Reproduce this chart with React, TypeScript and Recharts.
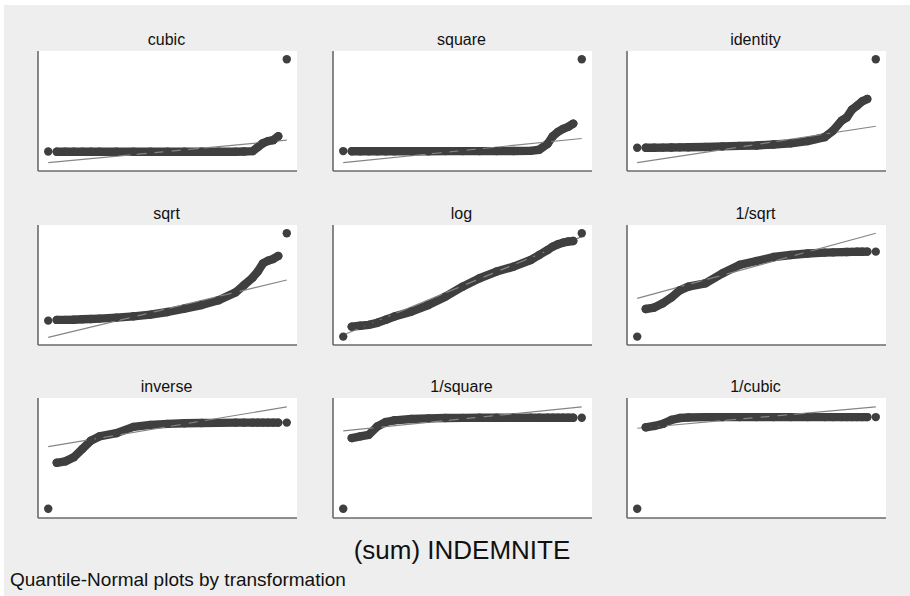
import { ComposedChart, Line, Scatter, XAxis, YAxis } from 'recharts'

// normal quantiles shared by every panel (first and last are the lone extremes)
const qx = [-3.5, -3.25, -3.0, -2.75, -2.5, -2.25, -2.0, -1.5, -1.0, -0.5, 0, 0.5, 1.0, 1.5, 2.0, 2.25, 2.5, 2.65, 2.8, 2.95, 3.1, 3.25, 3.5]
const fitX = [-3.5, 3.5]

// transformed values, rescaled to 0..100 within each panel
const cubicY = [16.2, 16.0, 16.0, 16.0, 16.0, 16.0, 16.0, 16.0, 16.0, 16.1, 16.1, 16.1, 16.1, 16.1, 16.1, 16.3, 16.6, 19.9, 23.2, 24.9, 25.7, 29.0, 93.1]
const squareY = [16.6, 16.5, 16.5, 16.5, 16.5, 16.5, 16.5, 16.5, 16.5, 16.6, 16.6, 16.6, 16.6, 16.7, 16.8, 17.7, 22.7, 29.0, 32.6, 35.1, 36.8, 39.5, 93.1]
const identityY = [19.4, 19.4, 19.4, 19.5, 19.6, 19.7, 19.8, 20.0, 20.5, 20.9, 21.3, 22.1, 23.0, 24.9, 28.2, 33.7, 42.0, 44.7, 51.1, 54.4, 58.0, 60.0, 93.1]
const sqrtY = [20.3, 20.9, 20.9, 21.1, 21.4, 21.7, 22.0, 22.8, 23.9, 25.3, 27.5, 30.3, 33.3, 37.3, 43.9, 50.0, 56.2, 61.2, 68.0, 70.3, 71.7, 74.2, 93.1]
const logY = [7.0, 15.3, 16.0, 16.8, 18.5, 21.0, 23.7, 27.8, 33.3, 40.3, 48.6, 55.6, 61.2, 65.3, 70.8, 75.0, 79.2, 82.0, 83.9, 85.3, 86.2, 86.7, 93.1]
const invSqrtY = [7.0, 30.0, 31.2, 34.8, 39.5, 45.6, 48.6, 51.4, 59.7, 66.7, 70.0, 73.3, 75.0, 76.2, 77.0, 77.2, 77.4, 77.5, 77.6, 77.7, 77.7, 77.8, 77.8]
const inverseY = [7.7, 46.0, 47.2, 50.7, 57.5, 64.4, 68.0, 70.7, 75.9, 77.6, 78.4, 78.9, 79.2, 79.3, 79.5, 79.5, 79.5, 79.5, 79.5, 79.5, 79.5, 79.5, 79.5]
const invSquareY = [7.7, 66.6, 68.0, 69.3, 76.2, 80.0, 81.4, 82.5, 83.0, 83.3, 83.4, 83.5, 83.6, 83.6, 83.6, 83.6, 83.6, 83.6, 83.6, 83.6, 83.6, 83.6, 83.6]
const invCubicY = [7.7, 75.6, 76.7, 78.4, 81.7, 83.3, 83.8, 84.1, 84.1, 84.1, 84.1, 84.1, 84.1, 84.1, 84.1, 84.1, 84.1, 84.1, 84.1, 84.1, 84.1, 84.1, 84.1]

// normal fit line ends at fitX
const cubicFit = [7.0, 25.7]
const squareFit = [7.0, 27.1]
const identityFit = [7.0, 37.3]
const sqrtFit = [6.4, 54.2]
const logFit = [8.3, 90.3]
const invSqrtFit = [38.9, 93.1]
const inverseFit = [59.5, 92.6]
const invSquareFit = [72.6, 92.6]
const invCubicFit = [74.8, 92.6]

const titles = ['cubic', 'square', 'identity', 'sqrt', 'log', '1/sqrt', 'inverse', '1/square', '1/cubic']
const seriesY = [cubicY, squareY, identityY, sqrtY, logY, invSqrtY, inverseY, invSquareY, invCubicY]
const fits = [cubicFit, squareFit, identityFit, sqrtFit, logFit, invSqrtFit, inverseFit, invSquareFit, invCubicFit]

const colLeft = [36, 331, 625]
const rowTop = [51, 225, 398]
const PW = 261
const PH = 122
const FONT = '"Liberation Sans", Arial, Helvetica, sans-serif'
const DOT = '#3f3f3f'

// eslint-disable-next-line @typescript-eslint/no-explicit-any
function Dot(props: any) {
  return <circle cx={props.cx} cy={props.cy} r={4.2} fill={DOT} />
}

function Panel({ idx }: { idx: number }) {
  const ys = seriesY[idx]
  const band = qx.slice(1, -1).map((x, i) => ({ x, y: ys[i + 1] }))
  const ends = [
    { x: qx[0], y: ys[0] },
    { x: qx[qx.length - 1], y: ys[ys.length - 1] },
  ]
  const fit = fitX.map((x, i) => ({ x, y: fits[idx][i] }))
  const left = colLeft[idx % 3]
  const top = rowTop[Math.floor(idx / 3)]
  const axis = { stroke: '#6a6a6a', strokeWidth: 1.6 }

  return (
    <>
      <div
        style={{
          position: 'absolute', left, top: top - 21, width: PW, textAlign: 'center',
          fontSize: 16, fontFamily: FONT, color: '#111', lineHeight: '20px',
        }}
      >
        {titles[idx]}
      </div>
      <div style={{ position: 'absolute', left, top, width: PW, height: PH }}>
        <ComposedChart width={PW} height={PH} margin={{ top: 0, right: 0, bottom: 0, left: 0 }}>
          <rect x={2} y={0} width={PW - 2} height={PH - 2} fill="#fff" />
          <XAxis
            type="number"
            dataKey="x"
            domain={[-3.8, 3.8]}
            tick={false}
            tickLine={false}
            height={2}
            axisLine={axis}
            allowDataOverflow
          />
          <YAxis
            type="number"
            dataKey="y"
            domain={[0, 100]}
            tick={false}
            tickLine={false}
            width={2}
            axisLine={axis}
            allowDataOverflow
          />
          <Line
            data={band}
            dataKey="y"
            type="linear"
            stroke={DOT}
            strokeWidth={8.4}
            strokeLinecap="round"
            strokeLinejoin="round"
            dot={{ r: 4.2, fill: DOT, stroke: 'none' }}
            isAnimationActive={false}
          />
          <Scatter data={ends} dataKey="y" shape={<Dot />} isAnimationActive={false} />
          <Line
            data={fit}
            dataKey="y"
            type="linear"
            stroke="#858585"
            strokeWidth={1.2}
            dot={false}
            isAnimationActive={false}
          />
        </ComposedChart>
      </div>
    </>
  )
}

export default function App() {
  return (
    <div style={{ position: 'absolute', left: 4, top: 5, width: 906, height: 591, background: '#eeeeee' }}>
      <div style={{ position: 'absolute', left: -4, top: -5 }}>
        {titles.map((_, i) => (
          <Panel key={i} idx={i} />
        ))}
        <div
          style={{
            position: 'absolute', left: 0, top: 534, width: 924, textAlign: 'center',
            fontSize: 26, fontFamily: FONT, color: '#111', lineHeight: '32px', whiteSpace: 'nowrap',
          }}
        >
          (sum) INDEMNITE
        </div>
        <div
          style={{
            position: 'absolute', left: 10, top: 569, fontSize: 19, fontFamily: FONT,
            color: '#111', lineHeight: '22px', whiteSpace: 'nowrap',
          }}
        >
          Quantile-Normal plots by transformation
        </div>
      </div>
    </div>
  )
}
